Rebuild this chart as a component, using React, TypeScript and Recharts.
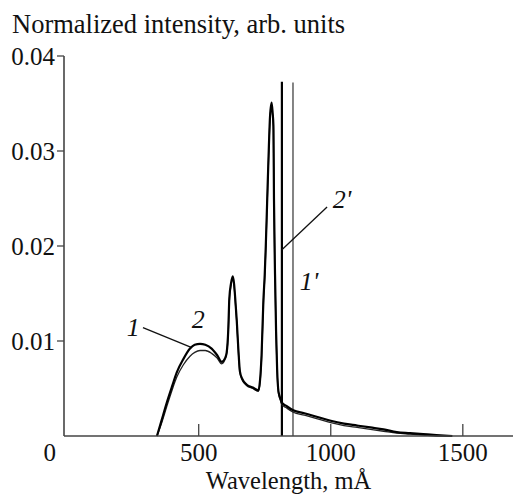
import React from 'react';
import { LineChart, Line, XAxis, YAxis, ReferenceLine, ReferenceDot } from 'recharts';

const wavelength = [
  342, 360, 379, 400, 417, 442, 467, 485, 505, 525, 549, 570, 587, 600, 606, 612, 616, 622, 629, 634,
  638, 644, 650, 656, 665, 682, 705, 726, 732, 738, 745, 750, 754, 759, 764, 770, 776, 780, 783, 785,
  789, 793, 797, 802, 810, 815, 830, 858, 900, 950, 1000, 1050, 1100, 1150, 1200, 1250, 1300, 1350, 1400, 1460,
];

// curve 2 (upper, heavier line)
const intensity2 = [
  0, 0.0017, 0.0035, 0.0053, 0.0067, 0.0081, 0.0092, 0.0096, 0.0097, 0.0096, 0.0092, 0.0085, 0.0078, 0.0082, 0.0088, 0.0112, 0.0145, 0.016, 0.0168, 0.016,
  0.0146, 0.0122, 0.0092, 0.0068, 0.006, 0.0054, 0.0051, 0.0048, 0.0058, 0.0085, 0.0143, 0.017, 0.02, 0.0245, 0.029, 0.0336, 0.0351, 0.034, 0.0326, 0.025,
  0.017, 0.011, 0.007, 0.0047, 0.0039, 0.0035, 0.0032, 0.0027, 0.0024, 0.002, 0.0016, 0.0013, 0.0011, 0.0009, 0.0007, 0.0004, 0.0003, 0.0002, 0.0001, 0,
];

// curve 1 (lower, thin line)
const intensity1 = [
  0, 0.0014, 0.0031, 0.0049, 0.0062, 0.0075, 0.0084, 0.0088, 0.009, 0.009, 0.0087, 0.0082, 0.0076, 0.0081, 0.0087, 0.011, 0.0142, 0.0158, 0.0166, 0.0158,
  0.0144, 0.012, 0.009, 0.0067, 0.0059, 0.0053, 0.005, 0.0047, 0.0056, 0.0082, 0.014, 0.0167, 0.0197, 0.0242, 0.0287, 0.0333, 0.0348, 0.0337, 0.0322, 0.0246,
  0.0166, 0.0106, 0.0067, 0.0045, 0.0037, 0.0033, 0.003, 0.0025, 0.0022, 0.0018, 0.0014, 0.0011, 0.0009, 0.0007, 0.0005, 0.0003, 0.0002, 0.0001, 0, 0,
];

const xTicks = [0, 500, 1000, 1500];
const yTicks = [0.01, 0.02, 0.03, 0.04];

// vertical lines 2' and 1'
const line2Prime = { x: 815, top: 0.0373 };
const line1Prime = { x: 857, top: 0.0372 };

// curve labels and their leader lines
const labels = [
  { text: '1', x: 228, y: 0.0105 },
  { text: '2', x: 474, y: 0.0114 },
  { text: "2'", x: 1008, y: 0.024 },
  { text: "1'", x: 883, y: 0.0154 },
];
const leaders = [
  [{ x: 289, y: 0.0114 }, { x: 474, y: 0.0093 }],
  [{ x: 986, y: 0.0241 }, { x: 815, y: 0.0196 }],
];

const data = wavelength.map((x, i) => ({ x, i1: intensity1[i], i2: intensity2[i] }));

const FONT = '"Liberation Serif", "Times New Roman", serif';

const XTick = (props: any) => {
  const { x, y, payload } = props;
  const v = payload.value;
  return (
    <g>
      {v !== 0 && <line x1={x} y1={y} x2={x} y2={y - 12} stroke="#444" strokeWidth={1.3} />}
      <text x={v === 0 ? x - 17 : x} y={y + 25} textAnchor="middle" fontSize={25} fontFamily={FONT} fill="#111">
        {v}
      </text>
    </g>
  );
};

export default function App() {
  return (
    <div style={{ position: 'absolute', left: 0, top: 0, background: '#fff' }}>
      <LineChart width={513} height={494} data={data} margin={{ top: 56, right: 0, bottom: 0, left: 0 }}>
        <XAxis
          type="number"
          dataKey="x"
          domain={[-10, 1690]}
          ticks={xTicks}
          allowDataOverflow
          height={58}
          tickSize={0}
          tickMargin={0}
          tickLine={false}
          axisLine={{ stroke: '#444', strokeWidth: 1.6 }}
          tick={<XTick />}
          interval={0}
          label={{ value: 'Wavelength, mÅ', position: 'insideBottom', offset: 5.5, fontSize: 24.5, fontFamily: FONT, fill: '#111' }}
        />
        <YAxis
          type="number"
          domain={[0, 0.04]}
          ticks={yTicks}
          width={64}
          tickSize={7}
          tickMargin={2}
          interval={0}
          tickFormatter={(v: number) => v.toFixed(2)}
          tickLine={{ stroke: '#444', strokeWidth: 1.3 }}
          axisLine={{ stroke: '#444', strokeWidth: 1.6 }}
          tick={{ fontSize: 25, fontFamily: FONT, fill: '#111' }}
          label={{
            content: (p: any) => (
              <text x={p.viewBox.x + 12} y={p.viewBox.y - 23} fontSize={26.5} fontFamily={FONT} fill="#111">
                Normalized intensity, arb. units
              </text>
            ),
          }}
        />
        <ReferenceLine
          segment={[{ x: line2Prime.x, y: 0 }, { x: line2Prime.x, y: line2Prime.top }]}
          stroke="#000"
          strokeWidth={2.2}
        />
        <ReferenceLine
          segment={[{ x: line1Prime.x, y: 0 }, { x: line1Prime.x, y: line1Prime.top }]}
          stroke="#333"
          strokeWidth={1.2}
        />
        {leaders.map((seg, i) => (
          <ReferenceLine key={'l' + i} segment={seg} stroke="#111" strokeWidth={1.3} />
        ))}
        {labels.map((l) => (
          <ReferenceDot
            key={l.text}
            x={l.x}
            y={l.y}
            r={0}
            shape={(p: any) => (
              <text x={p.cx} y={p.cy} fontSize={26} fontFamily={FONT} fontStyle="italic" fill="#111">
                {l.text}
              </text>
            )}
          />
        ))}
        <Line type="monotone" dataKey="i1" stroke="#222" strokeWidth={1.3} dot={false} isAnimationActive={false} />
        <Line type="monotone" dataKey="i2" stroke="#000" strokeWidth={2.2} dot={false} isAnimationActive={false} />
      </LineChart>
    </div>
  );
}
